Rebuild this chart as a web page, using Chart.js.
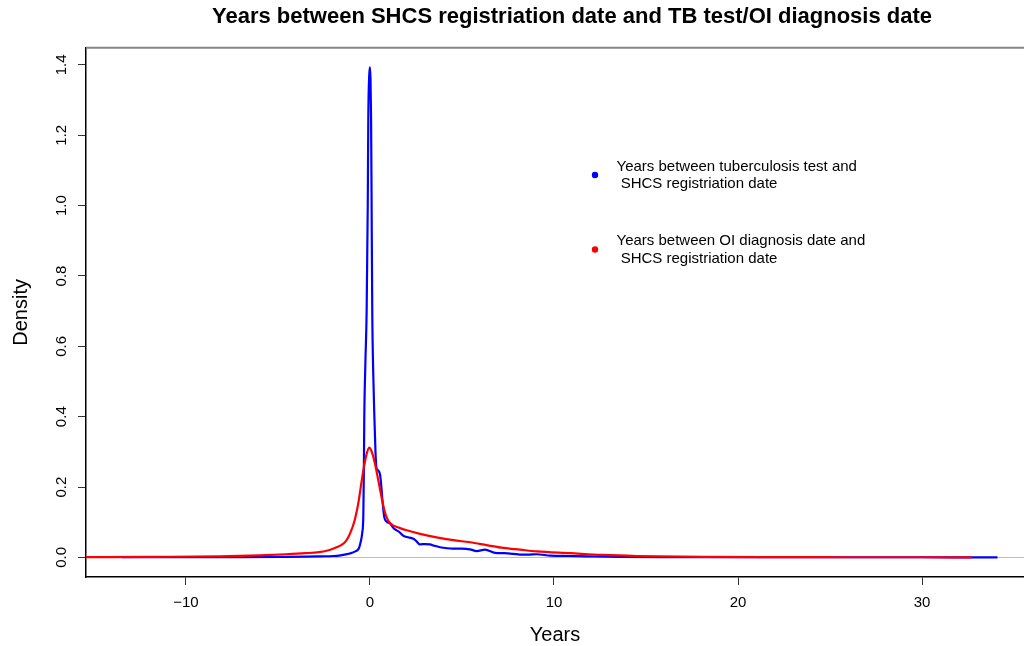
<!DOCTYPE html>
<html>
<head>
<meta charset="utf-8">
<script src="https://cdn.jsdelivr.net/npm/chart.js@4.4.0/dist/chart.umd.min.js"></script>
<style>
html, body { margin: 0; padding: 0; background: #fff; }
canvas { display: block; }
</style>
</head>
<body>
<canvas id="densityChart" width="1024" height="646"></canvas>
<script>
// Axis ticks
const xTicks = [-10, 0, 10, 20, 30];
const yTicks = [0, 0.2, 0.4, 0.6, 0.8, 1.0, 1.2, 1.4];

// Years between tuberculosis test and SHCS registration (blue density)
const tbYears = [-13.5, -10, -7, -5, -3.5, -2.7, -2.0, -1.6, -1.1, -0.8, -0.6, -0.5, -0.42, -0.36, -0.33, -0.31,
    -0.25, -0.18, -0.12, -0.09, -0.04, 0, 0.03, 0.06, 0.09, 0.125, 0.18, 0.24, 0.3, 0.35, 0.45, 0.55, 0.62,
    0.7, 0.78, 0.9, 1.1, 1.3, 1.45, 1.6, 1.8, 2.0, 2.36, 2.55, 2.7, 3.0, 3.26, 3.5, 3.8, 4.2, 4.5, 5.0, 5.43,
    5.8, 6.25, 6.8, 7.3, 7.8, 8.15, 8.6, 9.06, 9.8, 10.8, 11.8, 13.6, 16, 20, 25, 30, 34.1];
const tbDensity = [0.0005, 0.0008, 0.001, 0.0015, 0.002, 0.003, 0.004, 0.006, 0.011, 0.017, 0.026, 0.045, 0.07, 0.12, 0.25, 0.39,
    0.55, 0.70, 1.0, 1.25, 1.37, 1.393, 1.36, 1.25, 1.0, 0.7, 0.52, 0.40, 0.30, 0.256, 0.247, 0.235, 0.20,
    0.15, 0.114, 0.102, 0.096, 0.082, 0.077, 0.072, 0.062, 0.058, 0.053, 0.045, 0.037, 0.038, 0.037, 0.033, 0.029, 0.026, 0.025, 0.025, 0.023,
    0.018, 0.022, 0.013, 0.012, 0.010, 0.008, 0.008, 0.009, 0.005, 0.004, 0.003, 0.0015, 0.001, 0.0008, 0.0005, 0.0004, 0.0003];

// Years between OI diagnosis date and SHCS registration (red density)
const oiYears = [-15.5, -12, -8.2, -6, -4.57, -3.5, -2.77, -2.2, -1.85, -1.5, -1.3, -1.15, -1.03, -0.92, -0.8, -0.63, -0.5,
    -0.36, -0.2, -0.04, 0.1, 0.27, 0.45, 0.63, 0.78, 0.91, 1.05, 1.25, 1.6, 2.0, 2.72, 3.62, 4.53, 5.43, 6.34,
    7.25, 8.15, 9.06, 10.87, 12.66, 14.5, 18.1, 21.7, 26, 30, 32.7];
const oiDensity = [0.0005, 0.0015, 0.003, 0.006, 0.009, 0.012, 0.015, 0.021, 0.028, 0.037, 0.047, 0.06, 0.075, 0.09, 0.112, 0.155, 0.20,
    0.247, 0.29, 0.312, 0.30, 0.267, 0.22, 0.171, 0.135, 0.114, 0.10, 0.091, 0.084, 0.077, 0.067, 0.057, 0.049, 0.043, 0.035,
    0.027, 0.022, 0.017, 0.012, 0.007, 0.004, 0.0015, 0.0008, 0.0005, 0.0004, 0.0003];

const legendItems = [
    { color: '#0000ff', lines: ['Years between tuberculosis test and', ' SHCS registriation date'] },
    { color: '#ff0000', lines: ['Years between OI diagnosis date and', ' SHCS registriation date'] }
];

const fontFamily = "'Liberation Sans', Arial, Helvetica, sans-serif";

// Title, top rule and the dot legend
const decorations = {
    id: 'decorations',
    afterDraw(chart) {
        const { ctx, chartArea } = chart;
        ctx.save();
        ctx.strokeStyle = '#858585';
        ctx.lineWidth = 2;
        ctx.beginPath();
        ctx.moveTo(chartArea.left, chartArea.top);
        ctx.lineTo(chartArea.right, chartArea.top);
        ctx.stroke();

        ctx.fillStyle = '#000';
        ctx.textAlign = 'center';
        ctx.textBaseline = 'middle';
        ctx.font = 'bold 22px ' + fontFamily;
        ctx.fillText('Years between SHCS registriation date and TB test/OI diagnosis date', 572, 17);

        ctx.font = '15px ' + fontFamily;
        ctx.textAlign = 'left';
        const rows = [175, 249.5];
        legendItems.forEach((item, i) => {
            ctx.fillStyle = item.color;
            ctx.beginPath();
            ctx.arc(595, rows[i], 3.2, 0, Math.PI * 2);
            ctx.fill();
            ctx.fillStyle = '#000';
            ctx.fillText(item.lines[0], 616.5, rows[i] - 8.5);
            ctx.fillText(item.lines[1], 616.5, rows[i] + 9);
        });
        ctx.restore();
    }
};

const ctx = document.getElementById('densityChart').getContext('2d');
new Chart(ctx, {
    type: 'line',
    data: {
        datasets: [
            {
                label: 'Years between tuberculosis test and SHCS registriation date',
                data: tbYears.map((x, i) => ({ x: x, y: tbDensity[i] })),
                borderColor: '#0000ff',
                borderWidth: 2.2,
                pointRadius: 0,
                cubicInterpolationMode: 'monotone',
                fill: false,
                order: 2
            },
            {
                label: 'Years between OI diagnosis date and SHCS registriation date',
                data: oiYears.map((x, i) => ({ x: x, y: oiDensity[i] })),
                borderColor: '#ff0000',
                borderWidth: 2.2,
                pointRadius: 0,
                cubicInterpolationMode: 'monotone',
                fill: false,
                order: 1
            }
        ]
    },
    options: {
        responsive: false,
        animation: false,
        devicePixelRatio: 1,
        layout: {
            padding: { top: 47.7, left: 0, right: 0, bottom: 0 }
        },
        scales: {
            x: {
                type: 'linear',
                min: -15.43,
                max: 35.54,
                afterBuildTicks: scale => { scale.ticks = xTicks.map(v => ({ value: v })); },
                afterFit: scale => { scale.height = 69; },
                ticks: {
                    color: '#000',
                    font: { family: fontFamily, size: 15 },
                    padding: 9,
                    callback: v => (v < 0 ? '\u2212' + Math.abs(v) : String(v))
                },
                grid: {
                    drawOnChartArea: false,
                    drawTicks: true,
                    tickLength: 8,
                    tickColor: '#333'
                },
                border: { color: '#000', width: 1.5 },
                title: {
                    display: true,
                    text: 'Years',
                    color: '#000',
                    font: { family: fontFamily, size: 20, lineHeight: 1 },
                    padding: { top: 0, bottom: 1 }
                }
            },
            y: {
                min: -0.0557,
                max: 1.449,
                afterBuildTicks: scale => { scale.ticks = yTicks.map(v => ({ value: v })); },
                afterFit: scale => { scale.width = 86; },
                ticks: {
                    color: '#000',
                    font: { family: fontFamily, size: 15 },
                    minRotation: 90,
                    maxRotation: 90,
                    crossAlign: 'center',
                    padding: 5.5,
                    callback: v => v.toFixed(1)
                },
                grid: {
                    drawOnChartArea: true,
                    drawTicks: true,
                    tickLength: 8,
                    tickColor: '#333',
                    color: c => (c.tick && c.tick.value === 0 ? '#bebebe' : 'rgba(0,0,0,0)')
                },
                border: { color: '#000', width: 1.5 },
                title: {
                    display: true,
                    text: 'Density',
                    color: '#000',
                    font: { family: fontFamily, size: 20, lineHeight: 1 },
                    padding: { top: 11, bottom: 0 }
                }
            }
        },
        plugins: {
            legend: { display: false },
            tooltip: { enabled: false }
        }
    },
    plugins: [decorations]
});
</script>
</body>
</html>
